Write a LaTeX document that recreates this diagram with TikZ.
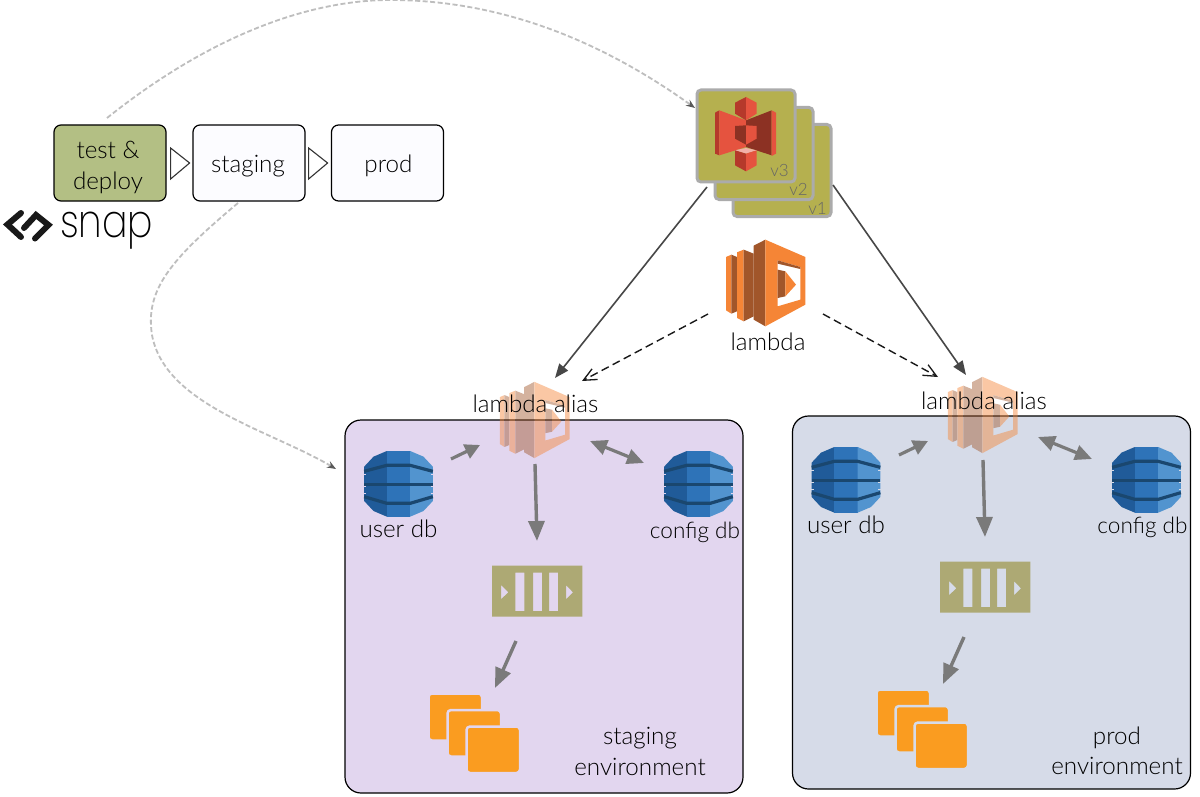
\documentclass[tikz,border=0pt]{standalone}
\usepackage{fontspec}
\setmainfont{Lato}[UprightFont=* Light]
\newfontfamily\snapfont{Poppins}[UprightFont=* ExtraLight]
\usetikzlibrary{arrows.meta,calc}
\definecolor{stagebg}{HTML}{E2D6EF}
\definecolor{prodbg}{HTML}{D6DBE8}
\definecolor{oliveg}{HTML}{B3BF84}
\definecolor{pipeg}{HTML}{FCFCFF}
\definecolor{cardfill}{HTML}{B5B04F}
\definecolor{cardedge}{HTML}{ABABAB}
\definecolor{lamA}{HTML}{F58536}
\definecolor{lamB}{HTML}{A1562A}
\definecolor{s3A}{HTML}{E5533F}
\definecolor{s3B}{HTML}{8C3123}
\definecolor{s3C}{HTML}{F2B0A9}
\definecolor{s3D}{HTML}{B5392B}
\definecolor{dynA}{HTML}{205B99}
\definecolor{dynB}{HTML}{2E73B8}
\definecolor{dynC}{HTML}{5294CF}
\definecolor{dynD}{HTML}{1A476F}
\definecolor{kin}{HTML}{ADA974}
\definecolor{ec2}{HTML}{FA9C20}
\definecolor{thick}{HTML}{7A7A7A}
\definecolor{dashg}{HTML}{BEBEBE}
\tikzset{
  every node/.style={font=\fontsize{24.2}{30.5}\selectfont,text=black,inner sep=0pt,align=center},
  configlabel/.style={font=\fontsize{22.6}{28}\selectfont},
  pipebox/.style={draw=black,line width=1.2pt,rounded corners=7pt,fill=pipeg,minimum width=112pt,minimum height=76pt},
  envbox/.style={draw=black,line width=1.2pt,rounded corners=16pt,minimum width=398pt,minimum height=373pt},
  versioncard/.style={draw=cardedge,line width=3pt,fill=cardfill,rounded corners=4pt,minimum width=98pt,minimum height=92pt},
  versionlabel/.style={font=\fontsize{17}{17}\selectfont,text=black!60,anchor=base east},
  pipetip/.style={draw=black!80,line width=1.1pt,fill=white},
  heavy/.style={draw=thick,line width=3.4pt,-{Triangle[length=20pt,width=16pt]}},
  heavys/.style={draw=thick,line width=3.2pt,-{Triangle[length=15pt,width=15pt]}},
  heavyd/.style={draw=thick,line width=3.2pt,{Triangle[length=17pt,width=15pt]}-{Triangle[length=17pt,width=15pt]}},
  codeline/.style={draw=black!72,line width=1.6pt,-{Triangle[length=14pt,width=11pt]}},
  aliasline/.style={draw=black!90,line width=1.4pt,dash pattern=on 8pt off 4.5pt,-{Straight Barb[length=13pt,width=12pt,line width=1.3pt]}},
  flowline/.style={draw=dashg,line width=1.8pt,dash pattern=on 5pt off 2.5pt,-{Stealth[length=9pt,width=7pt,color=black!65]}},
}
\newcommand{\lambdaicon}[3]{% centre x, y, scale
\begin{scope}[shift={(#1,#2)},x=#3*1pt/3,y=-#3*1pt/3]
 \fill[lamA] (-120,-78)--(-104,-85)--(-104,92)--(-120,82)--cycle;
 \fill[lamB] (-104,-85)--(-87,-78)--(-87,85)--(-104,92)--cycle;
 \fill[lamA] (-87,-92)--(-67,-100)--(-67,115)--(-87,105)--cycle;
 \fill[lamB] (-67,-100)--(-37,-88)--(-37,100)--(-67,115)--cycle;
 \fill[lamB] (-37,-112)--(-2,-130)--(-2,130)--(-37,110)--cycle;
 \fill[lamA,even odd rule] (-2,-130)--(118,-78)--(118,65)--(-2,130)--cycle
   (35,-68)--(103,-48)--(103,50)--(35,70)--cycle;
 \fill[lamB] (35,-68)--(103,-48)--(103,-42)--(35,-58)--cycle;
 \fill[lamB] (35,-40)--(58,-35)--(58,40)--(35,45)--cycle;
 \fill[lamA] (58,-35)--(90,5)--(58,40)--cycle;
\end{scope}}
\newcommand{\dynamoicon}[3]{% x y background
\begin{scope}[shift={(#1,#2)},x=1pt/3,y=-1pt/3]
 \fill[dynA] (-103,-52)--(-75,-82)--(-35,-99)--(-35,98)--(-75,81)--(-103,51)--cycle;
 \fill[dynB] (-35,-99)--(35,-99)--(35,98)--(-35,98)--cycle;
 \fill[dynC] (35,-99)--(75,-82)--(103,-52)--(103,51)--(75,81)--(35,98)--cycle;
 \draw[dynD,line width=3.2pt] (-103,-38)--(-35,-56)--(35,-56)--(103,-38);
 \draw[dynD,line width=3pt] (-103,1)--(103,1);
 \draw[dynD,line width=3.2pt] (-103,38)--(-35,58)--(35,58)--(103,38);
 \foreach \ny in {-28,8,28}{
  \draw[#3,line width=1.2pt] (-104,\ny)--(-97,\ny);
  \draw[#3,line width=1.2pt] (104,\ny)--(97,\ny);}
\end{scope}}
\newcommand{\kinesisicon}[2]{%
\begin{scope}[shift={(#1,#2)},x=1pt/3,y=-1pt/3]
 \fill[kin,even odd rule] (-135,-76) rectangle (136,77)
   (-65,-55) rectangle (-38,60) (-12,-55) rectangle (15,60) (36,-55) rectangle (63,60)
   (-108,-18)--(-86,4)--(-108,25)--cycle (87,-18)--(108,4)--(87,25)--cycle;
\end{scope}}
\newcommand{\ectwoicon}[3]{% x y bg
\begin{scope}[shift={(#1,#2)}]
 \draw[fill=ec2,draw=#3,line width=2.5pt,rounded corners=3.5pt] (-1.5,-1.5) rectangle (52,45.5);
 \draw[fill=ec2,draw=#3,line width=2.5pt,rounded corners=3.5pt] (17.5,15) rectangle (71,61.5);
 \draw[fill=ec2,draw=#3,line width=2.5pt,rounded corners=3.5pt] (36.5,31.5) rectangle (90,78);
\end{scope}}
\begin{document}
\begin{tikzpicture}[x=1pt,y=-1pt]
\useasboundingbox (0,0) rectangle (1200,797);
\fill[white] (0,0) rectangle (1200,797);

% environments
\node[envbox,fill=stagebg] (stageenv) at (544,606.5) {};
\node[envbox,fill=prodbg] (prodenv) at (991.5,602.5) {};

% pipeline
\node[pipebox,fill=oliveg] (test) at (110,163) {};
\node[pipebox] (staging) at (249,163) {};
\node[pipebox] (prod) at (387.5,163) {};
\node (testlabel) at (108,167.5) {test \&\\deploy};
\node (staginglabel) at (248,166) {staging};
\node (prodlabel) at (388.5,166) {prod};
\draw[pipetip] ($(test.east)+(4,-15)$)--($(test.east)+(23,0)$)--($(test.east)+(4,16)$)--cycle;
\draw[pipetip] ($(staging.east)+(3,-15)$)--($(staging.east)+(22,0)$)--($(staging.east)+(3,16)$)--cycle;

% snap logo
\begin{scope}[line width=6pt,line cap=round,line join=miter,draw=black!90]
 \draw (21,213)--(7.5,224.5)--(21,237);
 \draw (24,228)--(36,215)--(48.5,225)--(35,238.5);
\end{scope}
\node[font=\snapfont\fontsize{46}{46}\selectfont,anchor=base west] (snaptext) at (60,237) {\scalebox{.82}[1]{snap}};

% version stack
\node[versioncard] (v1) at (782,170.5) {};
\node[versioncard] (v2) at (764,153.5) {};
\node[versioncard] (v3) at (746,136) {};
\node[versionlabel] (v1t) at (827,214.5) {v1};
\node[versionlabel] (v2t) at (808,196) {v2};
\node[versionlabel] (v3t) at (789,176.5) {v3};
% s3 icon
\begin{scope}[shift={(710,92)},x=1pt/3,y=-1pt/3]
 \fill[s3D] (15,62)--(28,55)--(28,190)--(15,185)--cycle;
 \fill[s3A] (28,55)--(108,85)--(108,165)--(28,190)--cycle;
 \fill[s3B] (108,85)--(185,55)--(185,190)--(108,165)--cycle;
 \fill[s3A] (185,55)--(198,62)--(198,185)--(185,192)--cycle;
 \fill[s3D] (75,32)--(108,15)--(108,85)--(75,65)--cycle;
 \fill[s3A] (108,15)--(140,32)--(140,65)--(108,85)--cycle;
 \fill[s3B] (75,102)--(108,100)--(108,158)--(75,140)--cycle;
 \fill[s3A] (108,100)--(140,102)--(140,140)--(108,158)--cycle;
 \fill[s3C] (75,175)--(108,168)--(140,175)--(108,185)--cycle;
 \fill[s3D] (75,175)--(108,185)--(108,238)--(75,220)--cycle;
 \fill[s3A] (108,185)--(140,175)--(140,220)--(108,238)--cycle;
\end{scope}

% lambda
\lambdaicon{766}{283}{1}
\coordinate (lambdaL) at (708,314);
\coordinate (lambdaR) at (823,314);
\node (lambdalabel) at (768,342) {lambda};

% aliases
\begin{scope}[opacity=.45,transparency group]
 \lambdaicon{535}{420}{.88}
\end{scope}
\begin{scope}[opacity=.45,transparency group]
 \lambdaicon{983}{415}{.88}
\end{scope}
\node (aliasS) at (535.5,404) {lambda alias};
\node (aliasP) at (984,401) {lambda alias};

% databases
\dynamoicon{398.5}{484}{stagebg}
\dynamoicon{698.5}{484}{stagebg}
\dynamoicon{846}{480}{prodbg}
\dynamoicon{1146.5}{480}{prodbg}
\node (userS) at (398.5,529) {user db};
\node[configlabel] (configS) at (695,532) {config db};
\node (userP) at (846,525) {user db};
\node[configlabel] (configP) at (1142.5,527) {config db};

% streams and workers
\kinesisicon{537}{591}{}
\kinesisicon{985}{587}{}
\ectwoicon{430}{695}{stagebg}
\ectwoicon{878}{691}{prodbg}
\node (envS) at (640,751.5) {staging\\environment};
\node (envP) at (1117,751) {prod\\environment};

% connector ends
\coordinate (v3sw) at (707,187);
\coordinate (v1e) at (833,185);
\coordinate (inS) at (555,378);
\coordinate (inP) at (966,375);
\coordinate (dashS) at (582,381);
\coordinate (dashP) at (938,377);
\coordinate (flowA) at (107,118);
\coordinate (flowB) at (695,108);
\coordinate (flowC) at (238,203);
\coordinate (flowD) at (336,469);

% code and alias
\draw[codeline] (v3sw)--(inS);
\draw[codeline] (v1e)--(inP);
\draw[aliasline] (lambdaL)--(dashS);
\draw[aliasline] (lambdaR)--(dashP);

% deployment flows
\draw[flowline] (flowA) .. controls (230,20) and (330,0) .. (390,0) .. controls (500,0) and (600,40) .. (flowB);
\draw[flowline] (flowC) .. controls (170,260) and (145,290) .. (152,335) .. controls (165,405) and (270,430) .. (flowD);

% staging arrows
\coordinate (s1) at (451,459); \coordinate (s2) at (480,445);
\coordinate (s3) at (590,441); \coordinate (s4) at (644,463);
\coordinate (s5) at (535,464); \coordinate (s6) at (537,541);
\coordinate (s7) at (516,641); \coordinate (s8) at (495,688);
\draw[heavys] (s1)--(s2);
\draw[heavyd] (s3)--(s4);
\draw[heavy] (s5)--(s6);
\draw[heavy] (s7)--(s8);
% prod arrows
\coordinate (p1) at (899,455); \coordinate (p2) at (928,441);
\coordinate (p3) at (1038,437); \coordinate (p4) at (1092,459);
\coordinate (p5) at (983,460); \coordinate (p6) at (985,537);
\coordinate (p7) at (964,637); \coordinate (p8) at (943,684);
\draw[heavys] (p1)--(p2);
\draw[heavyd] (p3)--(p4);
\draw[heavy] (p5)--(p6);
\draw[heavy] (p7)--(p8);
\end{tikzpicture}
\end{document}
